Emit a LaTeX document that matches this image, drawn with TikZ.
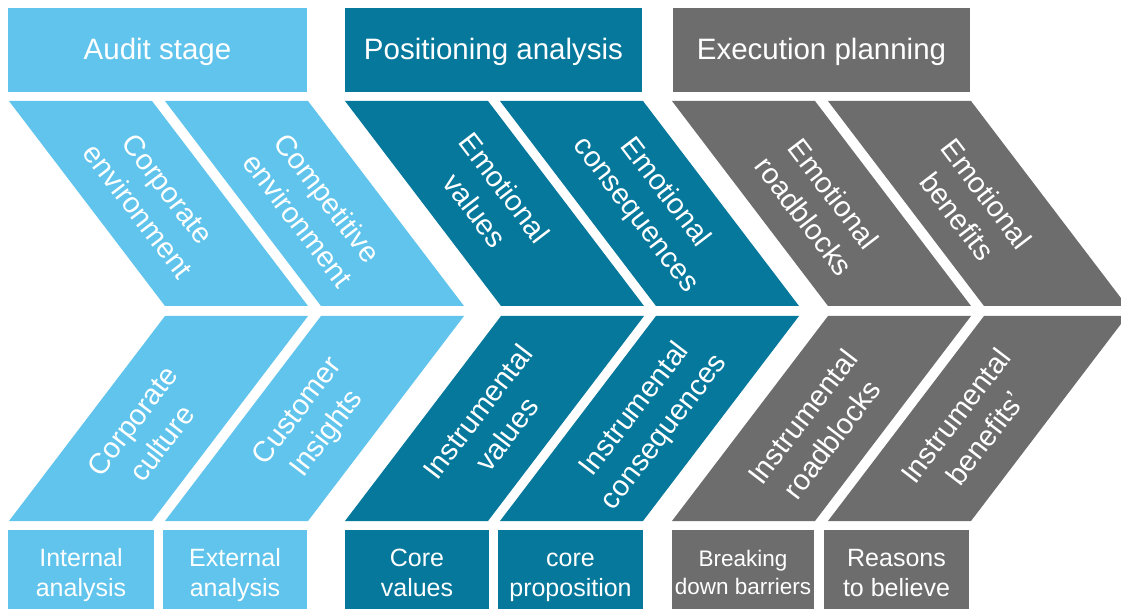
\documentclass[tikz,border=0pt]{standalone}
\usepackage{fontspec}
\setmainfont{Liberation Sans}
\definecolor{sky}{RGB}{96,196,236}
\definecolor{petrol}{RGB}{5,120,155}
\definecolor{slate}{RGB}{109,109,109}
% upper and lower halves of one chevron, #1 = left x of the upper half
\newcommand\upperpiece[2]{\fill[#2] (#1,101) -- ({#1+143},101) -- ({#1+299},306) -- ({#1+156},306) -- cycle;}
\newcommand\lowerpiece[2]{\fill[#2] ({#1+156},316) -- ({#1+299},316) -- ({#1+143},521) -- (#1,521) -- cycle;}
\begin{document}
\begin{tikzpicture}[x=1pt,y=-1pt,
  header/.style={fill=#1, text=white, inner sep=0pt, minimum height=84pt,
    font=\fontsize{29.5}{34}\selectfont},
  footbox/.style={fill=#1, text=white, inner sep=0pt, minimum height=90pt,
    align=center, font=\fontsize{25}{30}\selectfont},
  uptext/.style={text=white, align=center, rotate=-52.6,
    font=\fontsize{29}{37}\selectfont},
  lowtext/.style={text=white, align=center, rotate=52.6,
    font=\fontsize{29}{37}\selectfont}]
\clip (0,0) rectangle (1121,609);
\fill[white] (0,0) rectangle (1121,609);

% stage headers (filled boxes, label set on its own node)
\fill[sky] (8,8) rectangle (307,92);
\fill[petrol] (345,8) rectangle (642,92);
\fill[slate] (673,8) rectangle (970,92);
\node[header=sky, fill=none] (h1) at (157.5,53) {\strut Audit stage};
\node[header=petrol, fill=none] (h2) at (493.5,53) {\strut Positioning analysis};
\node[header=slate, fill=none] (h3) at (821.5,53) {\strut Execution planning};

% chevrons
\upperpiece{9}{sky}   \lowerpiece{9}{sky}
\upperpiece{165}{sky} \lowerpiece{165}{sky}
\upperpiece{345}{petrol} \lowerpiece{345}{petrol}
\upperpiece{500}{petrol} \lowerpiece{500}{petrol}
\upperpiece{672}{slate} \lowerpiece{672}{slate}
\upperpiece{828}{slate} \lowerpiece{828}{slate}

% chevron labels
\node[uptext] (u1) at (153,200) {Corporate\\environment};
\node[uptext] (u2) at (313,209) {Competitive\\environment};
\node[uptext] (u3) at (490,199) {Emotional\\values};
\node[uptext] (u4) at (650,204) {Emotional\\consequences};
\node[uptext] (u5) at (819,205) {Emotional\\roadblocks};
\node[uptext] (u6) at (972,205) {Emotional\\benefits};

\node[lowtext] (l1) at (147,432) {Corporate\\culture};
\node[lowtext] (l2) at (313,423) {Customer\\Insights};
\node[lowtext] (l3) at (492,423) {Instrumental\\values};
\node[lowtext] (l4) at (650,421) {Instrumental\\consequences};
\node[lowtext] (l5) at (817,428) {Instrumental\\roadblocks};
\node[lowtext] (l6) at (970,427) {Instrumental\\benefits’};

% outputs of each step
\node[footbox=sky, minimum width=146pt] (f1) at (81,575) {\strut Internal\\\strut analysis};
\node[footbox=sky, minimum width=144pt] (f2) at (235,575) {\strut External\\\strut analysis};
\node[footbox=petrol, minimum width=144pt] (f3) at (417,575) {\strut Core\\\strut values};
\node[footbox=petrol, minimum width=145pt] (f4) at (570.5,575) {\strut core\\\strut proposition};
\node[footbox=slate, minimum width=142pt,
  font=\fontsize{22.5}{28}\selectfont] (f5) at (743,575) {\strut Breaking\\\strut down barriers};
\node[footbox=slate, minimum width=145pt] (f6) at (896.5,575) {\strut Reasons\\\strut to believe};
\end{tikzpicture}
\end{document}
